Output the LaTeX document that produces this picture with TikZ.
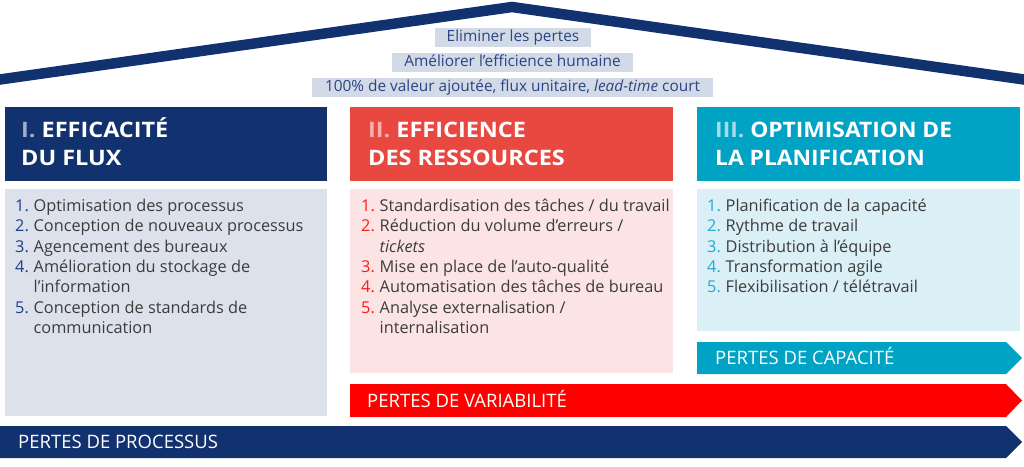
\documentclass[tikz,border=0pt]{standalone}
\usepackage{fontspec}
\usepackage{graphicx}
\setmainfont{Open Sans}
\definecolor{navy}{HTML}{12316F}
\definecolor{navylt}{HTML}{A3ADC6}
\definecolor{navyn}{HTML}{1F3F8C}
\definecolor{redh}{HTML}{E8483F}
\definecolor{redlt}{HTML}{F5B0AB}
\definecolor{redn}{HTML}{FF1A1A}
\definecolor{redarrow}{HTML}{FF0000}
\definecolor{tealh}{HTML}{00A3C4}
\definecolor{teallt}{HTML}{A6DCEA}
\definecolor{tealn}{HTML}{1DAED0}
\definecolor{grayb}{HTML}{DCE1EC}
\definecolor{pinkb}{HTML}{FCE4E4}
\definecolor{cyanb}{HTML}{DAEFF6}
\definecolor{topfill}{HTML}{D3DAE7}
\definecolor{toptext}{HTML}{2B4583}
\definecolor{bodytxt}{HTML}{3C3C3C}
\newcommand\numcol{navyn}
\newcommand\litem[5]{%
  \node[numtext, anchor=base west] (#1n) at (#2,#3) {#4};
  \node[bodytext, anchor=base west] (#1t) at (#2+18.5,#3) {#5};}
\newcommand\lcont[4]{%
  \node[bodytext, anchor=base west] (#1t) at (#2+18.5,#3) {#4};}
\begin{document}
\begin{tikzpicture}[x=1pt,y=-1pt,
  roof/.style={draw=navy, line width=10.5pt, line join=miter},
  topbox/.style={rectangle, fill=topfill, text=toptext, minimum height=19pt, inner sep=0pt,
    text height=11pt, text depth=3.5pt, font=\fontsize{15.4}{18}\selectfont},
  hbox/.style={rectangle, inner sep=0pt, anchor=north west, minimum height=74pt},
  pbox/.style={rectangle, inner sep=0pt, anchor=north west},
  htext/.style={inner sep=0pt, text=white, font=\fontsize{21.3}{25}\selectfont\bfseries},
  numtext/.style={inner sep=0pt, text=\numcol, font=\fontsize{16.3}{20}\selectfont},
  bodytext/.style={inner sep=0pt, text=bodytxt, font=\fontsize{16.3}{20}\selectfont},
  arrowtext/.style={inner sep=0pt, text=white, anchor=base west, font=\fontsize{18.5}{21}\selectfont},
]
\useasboundingbox (0,0) rectangle (1024,466);
\fill[white] (0,0) rectangle (1024,466);
% roof
\coordinate (roofL) at (-10,80.9);
\coordinate (roofP) at (512,7);
\coordinate (roofR) at (1034,80.9);
\draw[roof] (roofL) -- (roofP) -- (roofR);
% top boxes
\node[topbox, minimum width=156pt] (t1) at (513,37.5) {Eliminer les pertes};
\node[topbox, minimum width=241pt] (t2) at (512.5,62.5) {Améliorer l’efficience humaine};
\node[topbox, minimum width=401pt] (t3) at (512.5,87.5) {100\% de valeur ajoutée, flux unitaire, \textit{lead-time} court};
% headers
\node[hbox, fill=navy, minimum width=322pt] (h1) at (5,107) {};
\node[hbox, fill=redh, minimum width=323pt] (h2) at (350,107) {};
\node[hbox, fill=tealh, minimum width=323pt] (h3) at (697,107) {};
\node[htext, anchor=base west] (h1a) at (21,137) {\scalebox{1.1}[1]{\textcolor{navylt}{I.} EFFICACITÉ}};
\node[htext, anchor=base west] (h1b) at (21,165) {\scalebox{1.1}[1]{DU FLUX}};
\node[htext, anchor=base west] (h2a) at (368,137) {\scalebox{1.1}[1]{\textcolor{redlt}{II.} EFFICIENCE}};
\node[htext, anchor=base west] (h2b) at (368,165) {\scalebox{1.1}[1]{DES RESSOURCES}};
\node[htext, anchor=base west] (h3a) at (715,137) {\scalebox{1.07}[1]{\textcolor{teallt}{III.} OPTIMISATION DE}};
\node[htext, anchor=base west] (h3b) at (715,165) {\scalebox{1.07}[1]{LA PLANIFICATION}};
% bodies
\node[pbox, fill=grayb, minimum width=322pt, minimum height=227pt] (p1) at (5,189) {};
\node[pbox, fill=pinkb, minimum width=323pt, minimum height=184pt] (p2) at (350,189) {};
\node[pbox, fill=cyanb, minimum width=323pt, minimum height=142pt] (p3) at (697,189) {};
% list 1
\renewcommand\numcol{navyn}
\litem{a1}{15}{211.5}{1.}{Optimisation des processus}
\litem{a2}{15}{231.8}{2.}{Conception de nouveaux processus}
\litem{a3}{15}{252.1}{3.}{Agencement des bureaux}
\litem{a4}{15}{272.4}{4.}{Amélioration du stockage de}
\lcont{a4b}{15}{292.7}{l’information}
\litem{a5}{15}{313.0}{5.}{Conception de standards de}
\lcont{a5b}{15}{333.3}{communication}
% list 2
\renewcommand\numcol{redn}
\litem{b1}{361}{211.5}{1.}{Standardisation des tâches / du travail}
\litem{b2}{361}{231.8}{2.}{Réduction du volume d’erreurs /}
\lcont{b2b}{361}{252.1}{\textit{tickets}}
\litem{b3}{361}{272.4}{3.}{Mise en place de l’auto-qualité}
\litem{b4}{361}{292.7}{4.}{Automatisation des tâches de bureau}
\litem{b5}{361}{313.0}{5.}{Analyse externalisation /}
\lcont{b5b}{361}{333.3}{internalisation}
% list 3
\renewcommand\numcol{tealn}
\litem{c1}{707}{211.5}{1.}{Planification de la capacité}
\litem{c2}{707}{231.8}{2.}{Rythme de travail}
\litem{c3}{707}{252.1}{3.}{Distribution à l’équipe}
\litem{c4}{707}{272.4}{4.}{Transformation agile}
\litem{c5}{707}{292.7}{5.}{Flexibilisation / télétravail}
% arrows
\fill[tealh] (697,342) -- (1006,342) -- (1022,358) -- (1006,374) -- (697,374) -- cycle;
\fill[redarrow] (350,384) -- (1006,384) -- (1022,400.5) -- (1006,417) -- (350,417) -- cycle;
\fill[navy] (0,426) -- (1006,426) -- (1022,442) -- (1006,458) -- (0,458) -- cycle;
\node[arrowtext] (l3) at (715,364.5) {PERTES DE CAPACITÉ};
\node[arrowtext] (l2) at (367,407.5) {PERTES DE VARIABILITÉ};
\node[arrowtext] (l1) at (18,448.5) {PERTES DE PROCESSUS};
\end{tikzpicture}
\end{document}
